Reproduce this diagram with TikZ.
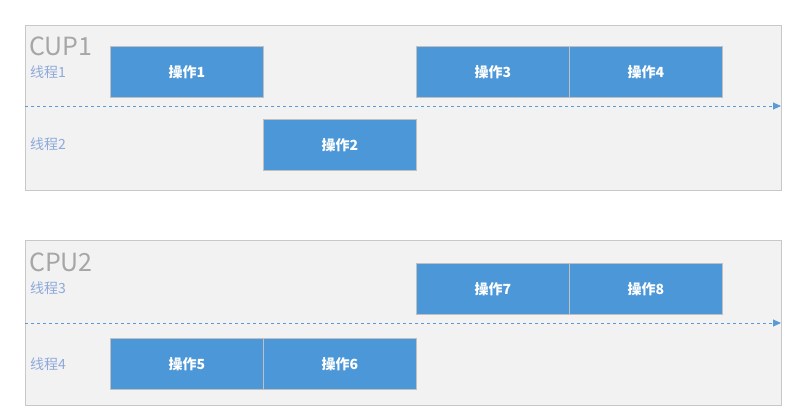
\documentclass[tikz,border=0pt]{standalone}
\usepackage{fontspec}
\setmainfont{Noto Sans CJK SC}
\usetikzlibrary{arrows.meta}
\definecolor{panelfill}{HTML}{F2F2F2}
\definecolor{panelline}{HTML}{C8C8C8}
\definecolor{opfill}{HTML}{4C97D8}
\definecolor{opline}{HTML}{C0C0C0}
\definecolor{arrowc}{HTML}{5B9BD5}
\definecolor{cpuc}{HTML}{A6A6A6}
\definecolor{thrc}{HTML}{8EA9DB}
\tikzset{
  panel/.style={draw=panelline, fill=panelfill, line width=0.8pt},
  opbox/.style={draw=opline, fill=opfill, line width=0.8pt, minimum width=153pt, minimum height=51pt, inner sep=0pt, text=white, font=\bfseries\fontsize{14pt}{16pt}\selectfont},
  cpulabel/.style={anchor=west, inner sep=0pt, text=cpuc, font=\fontsize{25pt}{28pt}\selectfont},
  thrlabel/.style={anchor=west, inner sep=0pt, text=thrc, font=\fontsize{14pt}{16pt}\selectfont},
  timeline/.style={draw=arrowc, dashed, line width=0.9pt, -{Triangle[length=8pt,width=7pt]}}
}
\begin{document}
\begin{tikzpicture}[x=1pt,y=-1pt]
\useasboundingbox (0,0) rectangle (798,415);
% panel 1
\node[panel, minimum width=756pt, minimum height=165pt, inner sep=0pt, anchor=north west] (p1) at (25,25) {};
\node[cpulabel] (c1) at (29,46) {CUP1};
\node[thrlabel] (t1) at (30,72) {线程1};
\node[thrlabel] (t2) at (30,144) {线程2};
\coordinate (a1s) at (25,106);
\coordinate (a1e) at (781,106);
\draw[timeline] (a1s) -- (a1e);
\node[opbox, anchor=north west] (o1) at (110,46) {操作1};
\node[opbox, anchor=north west] (o3) at (416,46) {操作3};
\node[opbox, anchor=north west] (o4) at (569,46) {操作4};
\node[opbox, anchor=north west] (o2) at (263,119) {操作2};
% panel 2
\node[panel, minimum width=756pt, minimum height=165pt, inner sep=0pt, anchor=north west] (p2) at (25,240) {};
\node[cpulabel] (c2) at (29,262) {CPU2};
\node[thrlabel] (t3) at (30,288) {线程3};
\node[thrlabel] (t4) at (30,364) {线程4};
\coordinate (a2s) at (25,323);
\coordinate (a2e) at (781,323);
\draw[timeline] (a2s) -- (a2e);
\node[opbox, anchor=north west] (o7) at (416,263) {操作7};
\node[opbox, anchor=north west] (o8) at (569,263) {操作8};
\node[opbox, anchor=north west] (o5) at (110,338) {操作5};
\node[opbox, anchor=north west] (o6) at (263,338) {操作6};
\end{tikzpicture}
\end{document}
